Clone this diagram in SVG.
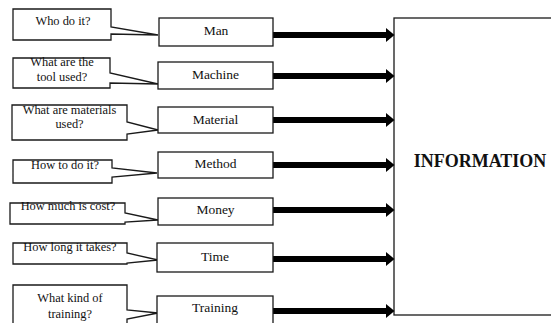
<svg xmlns="http://www.w3.org/2000/svg" width="551" height="323" viewBox="0 0 551 323">
<style>
.box{fill:#fff;stroke:#1a1a1a;stroke-width:1.3}
.call{fill:#fff;stroke:#1a1a1a;stroke-width:1.3;stroke-linejoin:miter}
.t{font-family:"Liberation Serif","Times New Roman",serif;font-size:13.5px;fill:#111;text-anchor:middle}
.c{font-family:"Liberation Serif","Times New Roman",serif;font-size:12.4px;fill:#111;text-anchor:middle}
.arr{stroke:#000;stroke-width:6;fill:none}
</style>
<defs>
<marker id="ah" markerUnits="userSpaceOnUse" markerWidth="9" markerHeight="14" refX="0" refY="7" orient="auto">
<path d="M0,0 L8.5,7 L0,14 z" fill="#000"/>
</marker>
</defs>
<rect width="551" height="323" fill="#fff"/>

<g id="information">
<rect class="box" x="394" y="18" width="170" height="297"/>
<text x="480" y="167" style="font-family:'Liberation Serif','Times New Roman',serif;font-size:18px;font-weight:bold;fill:#111" text-anchor="middle">INFORMATION</text>
</g>

<g id="connectors">
<line class="arr" x1="273" y1="35" x2="386" y2="35" marker-end="url(#ah)"/>
<line class="arr" x1="273" y1="76" x2="386" y2="76" marker-end="url(#ah)"/>
<line class="arr" x1="273" y1="120" x2="386" y2="120" marker-end="url(#ah)"/>
<line class="arr" x1="273" y1="165" x2="386" y2="165" marker-end="url(#ah)"/>
<line class="arr" x1="273" y1="210" x2="386" y2="210" marker-end="url(#ah)"/>
<line class="arr" x1="273" y1="259" x2="386" y2="259" marker-end="url(#ah)"/>
<line class="arr" x1="273" y1="311" x2="386" y2="311" marker-end="url(#ah)"/>
</g>

<g id="callout-who">
<path class="call" d="M13,9 H111 V27 L158,35 L111,34 V40 H13 Z"/>
<text class="c" x="63" y="25">Who do it?</text>
</g>
<g id="callout-tool">
<path class="call" d="M13,58 H110 V73 L158,84 L110,83 V88 H13 Z"/>
<text class="c" x="62" y="66">What are the</text>
<text class="c" x="62" y="81">tool used?</text>
</g>
<g id="callout-materials">
<path class="call" d="M12,105 H127 V122 L158,130 L127,134 V140 H12 Z"/>
<text class="c" x="69.5" y="114">What are materials</text>
<text class="c" x="69.5" y="128">used?</text>
</g>
<g id="callout-how">
<path class="call" d="M13,160 H112 V168 L157,173 L112,177 V183 H13 Z"/>
<text class="c" x="65" y="169">How to do it?</text>
</g>
<g id="callout-cost">
<path class="call" d="M10,203 H125 V213 L158,220 L125,222 V224 H10 Z"/>
<text class="c" x="68" y="210">How much is cost?</text>
</g>
<g id="callout-long">
<path class="call" d="M13,243 H127 V253 L158,260 L127,263 V264 H13 Z"/>
<text class="c" x="70" y="251">How long it takes?</text>
</g>
<g id="callout-training">
<path class="call" d="M13,285 H127 V310 L158,313 L127,319 V332 H13 Z"/>
<text class="c" x="70" y="302">What kind of</text>
<text class="c" x="70" y="318">training?</text>
</g>

<g id="man"><rect class="box" x="159" y="18" width="114" height="28"/><text class="t" x="216" y="35">Man</text></g>
<g id="machine"><rect class="box" x="158" y="62" width="115" height="27"/><text class="t" x="215.5" y="79">Machine</text></g>
<g id="material"><rect class="box" x="158" y="107" width="115" height="26"/><text class="t" x="215.5" y="124">Material</text></g>
<g id="method"><rect class="box" x="158" y="152" width="115" height="26"/><text class="t" x="215.5" y="168">Method</text></g>
<g id="money"><rect class="box" x="158" y="198" width="115" height="27"/><text class="t" x="215.5" y="214">Money</text></g>
<g id="time"><rect class="box" x="157" y="243" width="116" height="29"/><text class="t" x="215" y="261">Time</text></g>
<g id="training"><rect class="box" x="157" y="296" width="116" height="34"/><text class="t" x="215" y="312">Training</text></g>
</svg>
